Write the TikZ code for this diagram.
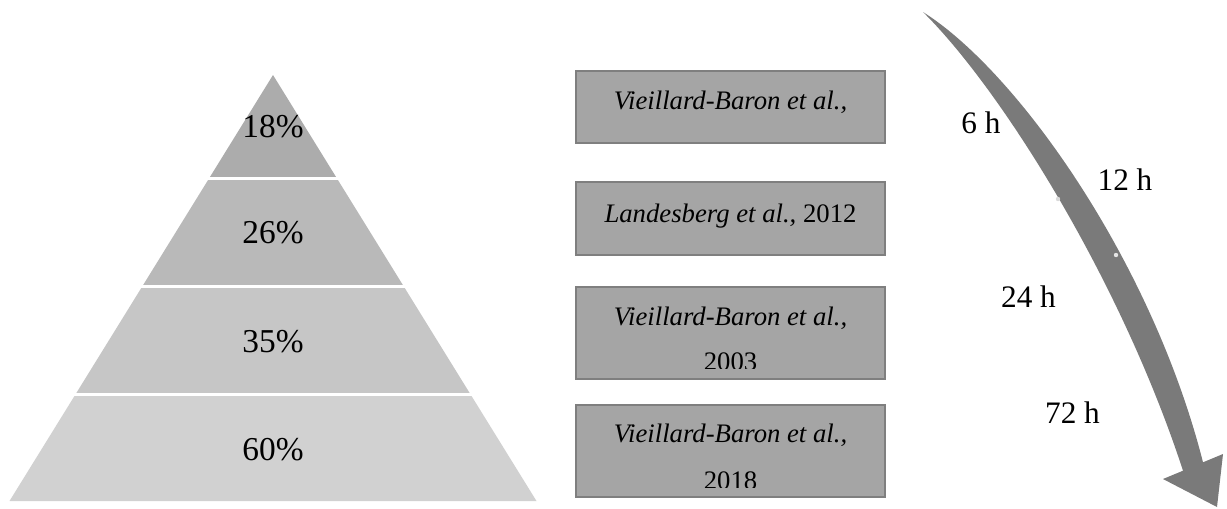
\documentclass[tikz,border=0pt]{standalone}
\usepackage{fontspec}
\setmainfont{Liberation Serif}
\definecolor{layA}{HTML}{ACACAC}
\definecolor{layB}{HTML}{B9B9B9}
\definecolor{layC}{HTML}{C6C6C6}
\definecolor{layD}{HTML}{D1D1D1}
\definecolor{boxfill}{HTML}{A5A5A5}
\definecolor{boxline}{HTML}{7F7F7F}
\definecolor{arrowgray}{HTML}{7A7A7A}
\begin{document}
\begin{tikzpicture}[x=0.02cm,y=-0.02cm,
  pct/.style={anchor=base, inner sep=0pt, font=\fontsize{19pt}{22pt}\selectfont},
  reftext/.style={anchor=base, inner sep=0pt, font=\fontsize{15.2pt}{18pt}\selectfont},
  hrs/.style={anchor=base, inner sep=0pt, font=\fontsize{17.8pt}{21pt}\selectfont},
  refbox/.style={draw=boxline, fill=boxfill, line width=1.1pt, rectangle, inner sep=0pt},
  sep/.style={draw=white, line width=1.7pt},
  dotmark/.style={circle, fill=black!15, inner sep=0pt, minimum size=2.5pt}]
\useasboundingbox (0,0) rectangle (1227,508);
% pyramid layers
\fill[layA] (273,75) -- (337,178.5) -- (209,178.5) -- cycle;
\fill[layB] (209,178.5) -- (337,178.5) -- (403.8,286.5) -- (142.2,286.5) -- cycle;
\fill[layC] (142.2,286.5) -- (403.8,286.5) -- (470.6,394.5) -- (75.4,394.5) -- cycle;
\fill[layD] (75.4,394.5) -- (470.6,394.5) -- (536.5,501) -- (9.5,501) -- cycle;
\draw[sep] (200,178.5) -- (346,178.5);
\draw[sep] (133,286.5) -- (413,286.5);
\draw[sep] (66,394.5) -- (480,394.5);
\node[pct] (p18) at (273,137) {18\%};
\node[pct] (p26) at (273,243) {26\%};
\node[pct] (p35) at (273,352) {35\%};
\node[pct] (p60) at (273,460) {60\%};
% reference boxes
\node[refbox, minimum width=6.18cm, minimum height=1.45cm] (b1) at (730.5,107) {};
\node[refbox, minimum width=6.18cm, minimum height=1.46cm] (b2) at (730.5,218.5) {};
\node[refbox, minimum width=6.18cm, minimum height=1.84cm] (b3) at (730.5,333) {};
\node[refbox, minimum width=6.18cm, minimum height=1.84cm] (b4) at (730.5,451) {};
\node[reftext] (t1) at (730.5,109) {\itshape Vieillard-Baron et al.,};
\node[reftext] (t2) at (730.5,222) {\itshape Landesberg et al.,\upshape{} 2012};
\node[reftext] (t3a) at (730.5,325) {\itshape Vieillard-Baron et al.,};
\begin{scope}
\clip (578,289) rectangle (883,368);
\node[reftext] (t3b) at (730.5,370) {2003};
\end{scope}
\node[reftext] (t4a) at (730.5,442) {\itshape Vieillard-Baron et al.,};
\begin{scope}
\clip (578,407) rectangle (883,487);
\node[reftext] (t4b) at (730.5,489) {2018};
\end{scope}
% curved arrow
\fill[arrowgray] (923,12) .. controls (1018,72) and (1152,262) .. (1203,462.3)
  -- (1223,454) -- (1217,507) -- (1163,479) -- (1183,470.7)
  .. controls (1120,278) and (1000,88) .. (923,12) -- cycle;
\node[dotmark] (d1) at (1058,199) {};
\node[dotmark, fill=black!10] (d2) at (1116,255) {};
% time labels
\node[hrs] (h6) at (981,133) {6 h};
\node[hrs] (h12) at (1125,190) {12 h};
\node[hrs] (h24) at (1028.5,307) {24 h};
\node[hrs] (h72) at (1072.5,423) {72 h};
\end{tikzpicture}
\end{document}
